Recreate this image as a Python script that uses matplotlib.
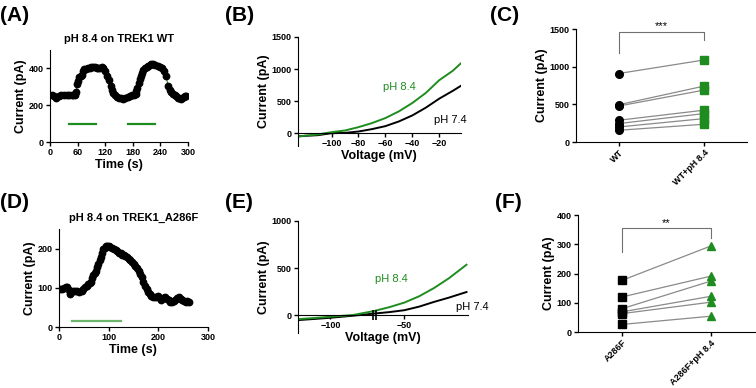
import matplotlib.pyplot as plt

plt.rcParams["font.family"] = ["Liberation Sans", "DejaVu Sans"]

# (A) pH 8.4 on TREK1 WT
a_time = [4, 9, 14, 20, 25, 31, 36, 42, 47, 51, 54, 57, 59, 62, 64, 67, 69, 72, 74, 78, 82, 86, 90, 94,
          98, 102, 105, 109, 113, 116, 119, 124, 128, 132, 135, 138, 141, 145, 150, 155, 159, 164, 170,
          175, 179, 183, 186, 188, 190, 193, 195, 198, 200, 203, 206, 210, 213, 217, 220, 225, 229, 234,
          239, 243, 248, 252, 257, 261, 264, 268, 271, 275, 278, 281, 284, 288, 291, 294, 296]
a_curr = [255, 250, 242, 248, 255, 256, 258, 256, 255, 257, 258, 270, 313, 330, 351, 358, 364, 385, 396,
          398, 400, 405, 409, 408, 409, 405, 400, 405, 409, 404, 385, 360, 336, 305, 282, 265, 255, 246,
          240, 238, 236, 240, 245, 250, 255, 258, 260, 275, 295, 320, 345, 360, 373, 390, 400, 410, 415,
          420, 424, 422, 418, 415, 409, 400, 385, 360, 305, 285, 273, 262, 255, 248, 242, 238, 233, 240,
          245, 248, 249]
a_bars = [(41, 100), (170, 229)]
a_bar_level = 100

# (D) pH 8.4 on TREK1_A286F
d_time = [2, 6, 11, 14, 17, 20, 22, 25, 29, 33, 37, 41, 46, 49, 52, 56, 59, 62, 64, 67, 69, 72, 74, 77,
          79, 82, 84, 87, 89, 92, 94, 97, 100, 103, 107, 110, 114, 117, 121, 124, 127, 131, 134, 137,
          141, 144, 147, 151, 154, 158, 161, 164, 167, 170, 173, 177, 180, 183, 186, 190, 193, 197, 200,
          203, 206, 210, 214, 217, 221, 224, 228, 231, 234, 238, 241, 245, 248, 252, 255, 258, 261]
d_curr = [97, 98, 99, 101, 102, 95, 85, 90, 93, 92, 91, 90, 91, 96, 102, 106, 110, 113, 116, 124, 132,
          138, 144, 153, 162, 170, 179, 188, 198, 203, 206, 207, 207, 205, 202, 199, 196, 193, 190, 188,
          185, 183, 181, 178, 174, 170, 166, 162, 157, 150, 144, 135, 127, 116, 106, 97, 89, 84, 79, 77,
          76, 78, 80, 75, 70, 73, 76, 72, 68, 65, 63, 67, 70, 74, 76, 72, 68, 66, 65, 66, 65]
d_bar = (27, 124)
d_bar_level = 15

# (B) / (E) I-V curves
b_volt = [-125, -120, -110, -100, -90, -80, -70, -60, -50, -40, -30, -20, -10, -4]
b_ph84 = [-52, -40, -20, 16, 42, 94, 157, 236, 340, 471, 628, 827, 973, 1089]
b_ph74 = [-50, -42, -31, 0, 5, 26, 63, 110, 183, 277, 398, 539, 660, 738]

e_volt = [-121, -110, -100, -85, -70, -60, -50, -40, -30, -20, -8]
e_ph84 = [-42, -30, -17, 0, 45, 85, 133, 200, 287, 390, 535]
e_ph74 = [-52, -40, -28, -7, 17, 32, 52, 90, 140, 185, 245]

# (C) WT vs WT+pH 8.4
c_labels = ["WT", "WT+pH 8.4"]
c_wt = [910, 495, 478, 289, 245, 200, 156]
c_ph = [1090, 743, 690, 423, 378, 311, 236]

# (F) A286F vs A286F+pH 8.4
f_labels = ["A286F", "A286F+pH 8.4"]
f_mut = [177, 120, 80, 69, 63, 26]
f_ph = [294, 191, 174, 122, 102, 54]

GREEN = "#1e8c1e"
LGREEN = "#6cb56c"
TICK = dict(fontsize=6.5, fontweight="bold")
LAB = dict(fontsize=9, fontweight="bold")

fig = plt.figure(figsize=(7.56, 3.88), dpi=100)


def style(ax):
    ax.spines["top"].set_visible(False)
    ax.spines["right"].set_visible(False)
    ax.tick_params(length=3, width=1, pad=1.5)
    for t in ax.get_xticklabels() + ax.get_yticklabels():
        t.set_fontsize(6.5)
        t.set_fontweight("bold")


def trace(ax, t, y, ymax, xt, bars, level, barcol, title):
    ax.plot(t, y, color=GREEN, lw=0.8, zorder=1)
    ax.plot(t, y, "o", color="black", ms=4.6, zorder=2)
    for b in bars:
        ax.plot(b, [level, level], color=barcol, lw=1.6)
    ax.set_xlim(0, 300)
    ax.set_ylim(0, ymax)
    ax.set_xticks(xt)
    ax.set_xlabel("Time (s)", labelpad=1, **LAB)
    ax.set_ylabel("Current (pA)", labelpad=1, **LAB)
    ax.set_title(title, fontsize=8, fontweight="bold", pad=6)
    style(ax)


def iv(ax, v, g, k, xlim, ylim, yt, xt, g_txt, k_txt):
    ax.plot(v, k, color="black", lw=1.4)
    ax.plot(v, g, color=GREEN, lw=1.4)
    ax.set_xlim(*xlim)
    ax.set_ylim(*ylim)
    ax.set_yticks(yt)
    ax.set_xticks(xt)
    ax.spines["bottom"].set_position(("data", 0))
    ax.text(*g_txt, "pH 8.4", color=GREEN, fontsize=8, ha="center", va="center")
    ax.text(*k_txt, "pH 7.4", color="black", fontsize=8, ha="center", va="center", clip_on=False)
    ax.set_ylabel("Current (pA)", labelpad=1, **LAB)
    style(ax)


def paired(ax, a, b, labels, marker_a, marker_b, ymax, yt, brk, stars):
    for y0, y1 in zip(a, b):
        ax.plot([0, 1], [y0, y1], color="#8a8a8a", lw=0.9, zorder=1)
    ax.plot([0] * len(a), a, marker_a, color="black", ms=5.5, zorder=2, ls="none")
    ax.plot([1] * len(b), b, marker_b, color=GREEN, ms=5.5, zorder=2, ls="none")
    top, l0, l1 = brk
    ax.plot([0, 0, 1, 1], [l0, top, top, l1], color="#707070", lw=0.8)
    ax.text(0.5, top, stars, ha="center", va="bottom", fontsize=8)
    ax.set_xlim(-0.5, 1.5)
    ax.set_ylim(0, ymax)
    ax.set_yticks(yt)
    ax.set_xticks([0, 1])
    ax.set_xticklabels(labels, rotation=45, ha="right", rotation_mode="anchor")
    ax.set_ylabel("Current (pA)", labelpad=1, **LAB)
    style(ax)


axA = fig.add_axes([0.0661, 0.634, 0.1825, 0.237])
trace(axA, a_time, a_curr, 500, [0, 60, 120, 180, 240, 300], a_bars, a_bar_level, GREEN,
      "pH 8.4 on TREK1 WT")

axD = fig.add_axes([0.078, 0.157, 0.197, 0.2526])
trace(axD, d_time, d_curr, 250, [0, 100, 200, 300], [d_bar], d_bar_level, LGREEN,
      "pH 8.4 on TREK1_A286F")

axB = fig.add_axes([0.394, 0.6237, 0.2156, 0.281])
iv(axB, b_volt, b_ph84, b_ph74, (-125, -4), (-200, 1500), [0, 500, 1000, 1500],
   [-100, -80, -60, -40, -20], (-50, 723), (-12, 210))
axB.set_xlabel("Voltage (mV)", labelpad=1, **LAB)

axE = fig.add_axes([0.394, 0.1418, 0.225, 0.2887])
iv(axE, e_volt, e_ph84, e_ph74, (-122, -7), (-190, 1000), [0, 500, 1000],
   [-100, -50], (-59, 385), (-4, 85))
axE.plot([-71, -69], [0, 0], "|", color="black", ms=7, mew=1.2)
axE.set_xlabel("Voltage (mV)", labelpad=1, **LAB)

axC = fig.add_axes([0.7619, 0.634, 0.226, 0.291])
paired(axC, c_wt, c_ph, c_labels, "o", "s", 1500, [0, 500, 1000, 1500],
       (1468, 1180, 1357), "***")

axF = fig.add_axes([0.7646, 0.1443, 0.234, 0.3015])
paired(axF, f_mut, f_ph, f_labels, "s", "^", 400, [0, 100, 200, 300, 400],
       (354, 274, 320), "**")

for lab, x, y in [("(A)", 0.0, 0.96), ("(B)", 0.298, 0.96), ("(C)", 0.648, 0.96),
                  ("(D)", 0.0, 0.477), ("(E)", 0.298, 0.477), ("(F)", 0.655, 0.477)]:
    fig.text(x, y, lab, fontsize=15, fontweight="bold", va="center", ha="left")

fig.savefig("out.png", dpi=100)
